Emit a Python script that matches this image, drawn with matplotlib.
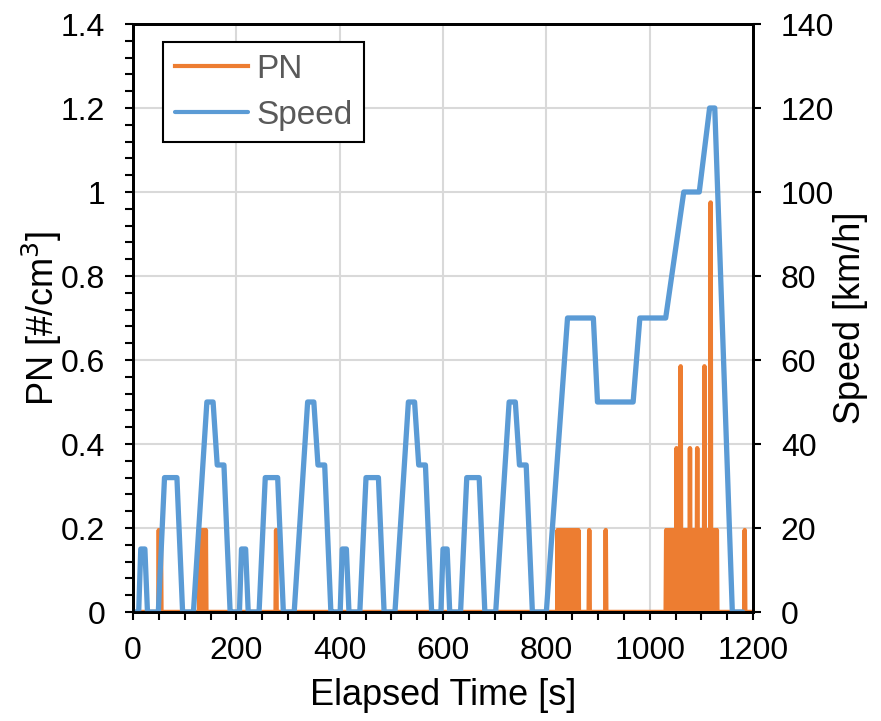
import numpy as np
import matplotlib
matplotlib.use("Agg")
import matplotlib.pyplot as plt
from matplotlib.ticker import MultipleLocator

plt.rcParams['font.family'] = ['Liberation Sans', 'DejaVu Sans']

# speed profile (NEDC breakpoints) - one ECE urban cycle, repeated 4x, then EUDC
ece_t = [0, 11, 15, 23, 28, 49, 61, 85, 96, 117, 143, 155, 163, 176, 188, 195]
ece_v = [0, 0, 15, 15, 0, 0, 32, 32, 0, 0, 50, 50, 35, 35, 0, 0]
eudc_t = [780, 800, 841, 891, 899, 968, 981, 1031, 1066, 1096, 1116, 1126, 1160, 1180]
eudc_v = [0, 0, 70, 70, 50, 50, 70, 70, 100, 100, 120, 120, 0, 0]
ece_starts = [0, 195, 390, 585]

# PN: 1 Hz signal, zero except these samples
pn_spike_t = [50, 52, 54,
              129, 131, 133, 135, 137, 139, 141,
              277,
              822, 824, 826, 828, 830, 832, 834, 836, 838, 840, 842,
              844, 846, 848, 850, 852, 854, 856, 858, 860, 862,
              883, 915,
              1032, 1034, 1036, 1038, 1040, 1042, 1044, 1046, 1048, 1050,
              1052, 1054, 1056, 1058, 1060, 1062, 1064, 1066, 1068, 1070,
              1072, 1074, 1076, 1078, 1080, 1082, 1084, 1086, 1088, 1090,
              1092, 1094, 1096, 1098, 1100, 1102, 1104, 1106, 1108, 1110,
              1112, 1114, 1116, 1118, 1120, 1122, 1124, 1126, 1128, 1130,
              1184]
pn_high_t = [1052, 1060, 1078, 1092, 1106, 1118]
pn_high_v = [0.39, 0.585, 0.39, 0.39, 0.585, 0.975]
pn_base = 0.195
pn_end = 1200

speed_t = []
speed_v = []
for s in ece_starts:
    speed_t += [s + t for t in ece_t]
    speed_v += ece_v
speed_t += eudc_t
speed_v += eudc_v

pn_time = np.arange(0, pn_end + 1)
pn = np.zeros(len(pn_time))
pn[pn_spike_t] = pn_base
pn[pn_high_t] = pn_high_v

orange = '#ED7D31'
blue = '#5B9BD5'

fig = plt.figure(figsize=(8.81, 7.21), dpi=100)
ax = fig.add_axes([133 / 881, 1 - 612 / 721, 620 / 881, 588 / 721])
ax2 = ax.twinx()

l1, = ax.plot(pn_time, pn, color=orange, lw=3.2, label='PN')
l2, = ax2.plot(speed_t, speed_v, color=blue, lw=3.8, label='Speed',
               solid_joinstyle='round', solid_capstyle='round')

ax.set_xlim(0, 1200)
ax.set_ylim(0, 1.4)
ax2.set_ylim(0, 140)
ax.xaxis.set_major_locator(MultipleLocator(200))
ax.xaxis.set_minor_locator(MultipleLocator(50))
ax.yaxis.set_minor_locator(MultipleLocator(0.04))
ax2.yaxis.set_major_locator(MultipleLocator(20))

ax.set_yticks(np.arange(0, 1.41, 0.2))
ax.set_yticklabels(['0', '0.2', '0.4', '0.6', '0.8', '1', '1.2', '1.4'])

ax.grid(True, which='major', color='#d9d9d9', lw=1.5)
ax.set_axisbelow(True)

for a in (ax, ax2):
    for sp in a.spines.values():
        sp.set_linewidth(2)
        sp.set_color('black')
ax.tick_params(axis='both', which='major', direction='out', length=6, width=1.5,
               labelsize=23)
ax.tick_params(axis='both', which='minor', direction='out', length=6, width=1.5)
ax.tick_params(axis='x', which='major', pad=11)
ax.tick_params(axis='y', which='major', pad=14)
ax2.tick_params(axis='y', which='major', direction='out', length=6, width=1.5,
                labelsize=23, pad=14)

ax.set_xlabel('Elapsed Time [s]', fontsize=26, labelpad=9)
ax.set_ylabel('PN [#/cm$^3$]', fontsize=26, labelpad=-2)
ax2.set_ylabel('Speed [km/h]', fontsize=26, labelpad=-1)

leg = ax2.legend(handles=[l1, l2], loc='upper left', fontsize=24,
                 bbox_to_anchor=(30 / 620, 1 - 18 / 588),
                 handlelength=2.2, handletextpad=0.25, labelcolor='#595959',
                 fancybox=False, framealpha=1, edgecolor='black',
                 borderpad=0.35, labelspacing=0.45, borderaxespad=0)
leg.get_frame().set_linewidth(1.5)
for h in leg.get_lines():
    h.set_linewidth(3)

fig.savefig('out.png', dpi=100)
